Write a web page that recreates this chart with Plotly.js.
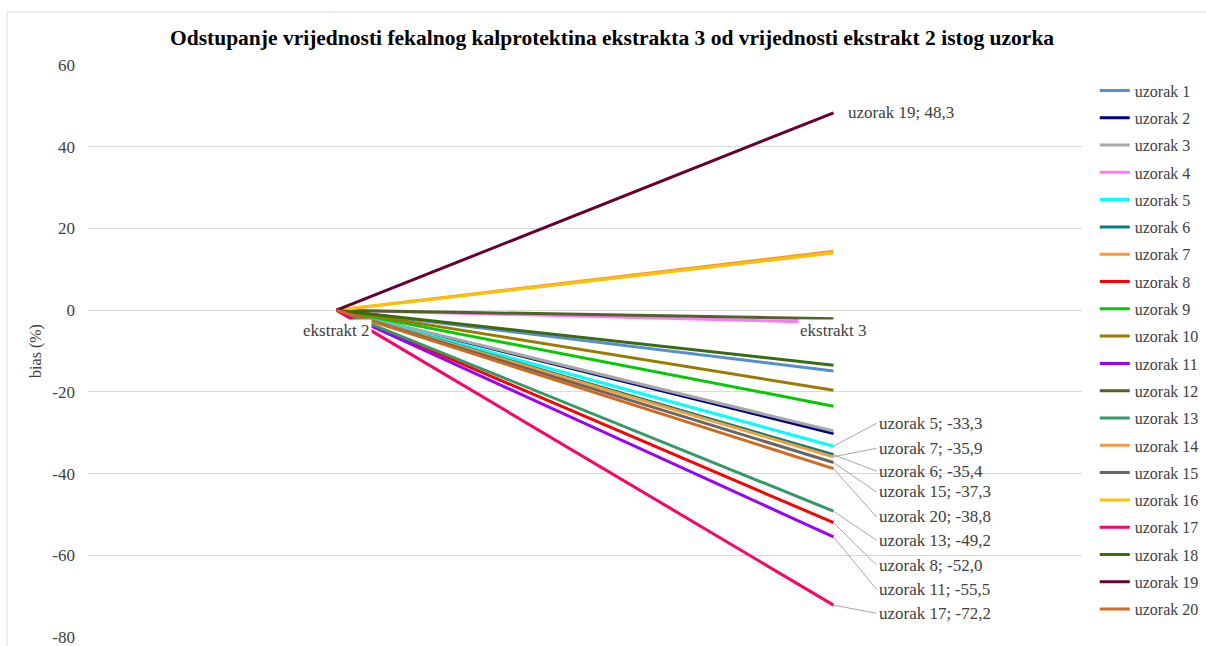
<!DOCTYPE html>
<html>
<head>
<meta charset="utf-8">
<script src="https://cdn.plot.ly/plotly-3.0.1.min.js"></script>
<style>html,body{margin:0;padding:0;background:#fff;}#chart{width:1206px;height:646px;}</style>
</head>
<body>
<div id="chart"></div>
<script>
// ---- data ----
const categories = ['ekstrakt 2', 'ekstrakt 3'];
const sampleNames = ['uzorak 1','uzorak 2','uzorak 3','uzorak 4','uzorak 5','uzorak 6','uzorak 7','uzorak 8','uzorak 9','uzorak 10',
                     'uzorak 11','uzorak 12','uzorak 13','uzorak 14','uzorak 15','uzorak 16','uzorak 17','uzorak 18','uzorak 19','uzorak 20'];
const biasExtract2 = [0,0,0,0,0,0,0,0,0,0,0,0,0,0,0,0,0,0,0,0];
const biasExtract3 = [-14.9,-30.2,-29.6,-3.0,-33.3,-35.4,-35.9,-52.0,-23.5,-19.6,
                      -55.5,-2.1,-49.2,14.4,-37.3,14.0,-72.2,-13.5,48.3,-38.8];
const yTicks = [-80,-60,-40,-20,0,20,40,60];
const titleText = 'Odstupanje vrijednosti fekalnog kalprotektina ekstrakta 3 od vrijednosti ekstrakt 2 istog uzorka';
const yTitle = 'bias (%)';
// labelled samples (index into arrays)
const labelled = [4, 6, 5, 14, 19, 12, 7, 10, 16];

// ---- styles ----
const colors = ['#558ED5','#00008B','#A6A6A6','#FF77FF','#00FFFF','#008080','#FF9933','#FF0000','#00CC00','#9C7A00',
                '#9900FF','#4F6228','#339966','#F79646','#666666','#FFC000','#FF0066','#3A6B0C','#660033','#D2691E'];
const labelY = [-27.7,-33.8,-39.4,-44.5,-50.6,-56.3,-62.4,-68.3,-74.2]; // label text positions (style)
const FONT = 'Liberation Serif, Times New Roman, serif';

const fmt = v => v.toFixed(1).replace('.', ',');

const traces = sampleNames.map((n, i) => ({
  type: 'scatter', mode: 'lines', name: n,
  x: categories, y: [biasExtract2[i], biasExtract3[i]],
  line: {color: colors[i], width: 3},
  legendgroup: 'g' + i,
  hoverinfo: 'skip'
}));

const annotations = [];
labelled.forEach((idx, k) => {
  annotations.push({
    x: categories[1], y: biasExtract3[idx], xref: 'x', yref: 'y',
    text: sampleNames[idx] + '; ' + fmt(biasExtract3[idx]),
    showarrow: true, arrowhead: 0, arrowwidth: 1, arrowcolor: '#A6A6A6',
    axref: 'pixel', ax: 43, ayref: 'y', ay: labelY[k],
    xanchor: 'left', yanchor: 'middle',
    font: {family: FONT, size: 17, color: '#404040'}
  });
});
// uzorak 19 label
annotations.push({
  x: categories[1], y: biasExtract3[18], xref: 'x', yref: 'y',
  text: sampleNames[18] + '; ' + fmt(biasExtract3[18]),
  showarrow: false, xanchor: 'left', yanchor: 'middle', xshift: 12,
  font: {family: FONT, size: 17, color: '#404040'}
});
// category labels at y = 0
categories.forEach(c => {
  annotations.push({
    x: c, y: 0, xref: 'x', yref: 'y', text: c, showarrow: false,
    yanchor: 'middle', yshift: -20, bgcolor: '#FFFFFF', borderpad: 1,
    font: {family: FONT, size: 17, color: '#404040'}
  });
});

const layout = {
  width: 1206, height: 646,
  margin: {l: 88, r: 0, t: 65, b: 0},
  paper_bgcolor: '#FFFFFF', plot_bgcolor: '#FFFFFF',
  font: {family: FONT, size: 17, color: '#404040'},
  title: {text: '<b>' + titleText + '</b>', x: 0.5075, xref: 'container', xanchor: 'center',
          y: 1 - 37/646, yref: 'container', yanchor: 'middle',
          font: {family: FONT, size: 21.5, color: '#000000'}},
  xaxis: {domain: [0, 0.8891], type: 'category', categoryorder: 'array', categoryarray: categories, range: [-0.5, 1.5],
          showgrid: false, showticklabels: false, zeroline: false, showline: false, ticks: ''},
  yaxis: {domain: [0.01549, 1], range: [-80, 60], tickvals: yTicks, ticktext: yTicks.map(String),
          showgrid: true, gridcolor: '#D9D9D9', gridwidth: 1, zeroline: false, showline: false, ticks: '',
          ticklabelstandoff: 12, automargin: false, ticklabeloverflow: 'allow',
          tickfont: {family: FONT, size: 17, color: '#404040'},
          title: {text: yTitle, standoff: 6, font: {family: FONT, size: 16, color: '#404040'}}},
  legend: {x: 0.9005, xanchor: 'left', y: 0.9854, yanchor: 'top', tracegroupgap: 3.5,
           font: {family: FONT, size: 16, color: '#404040'}, bgcolor: 'rgba(0,0,0,0)'},
  showlegend: true,
  annotations: annotations,
  shapes: [{type: 'rect', xref: 'paper', yref: 'paper', x0: -0.0725, x1: 1.2, y0: -0.1, y1: 1.0912,
            line: {color: '#D9D9D9', width: 1}, fillcolor: 'rgba(0,0,0,0)', layer: 'below'}]
};

Plotly.newPlot('chart', traces, layout, {displayModeBar: false, staticPlot: true});
</script>
</body>
</html>
